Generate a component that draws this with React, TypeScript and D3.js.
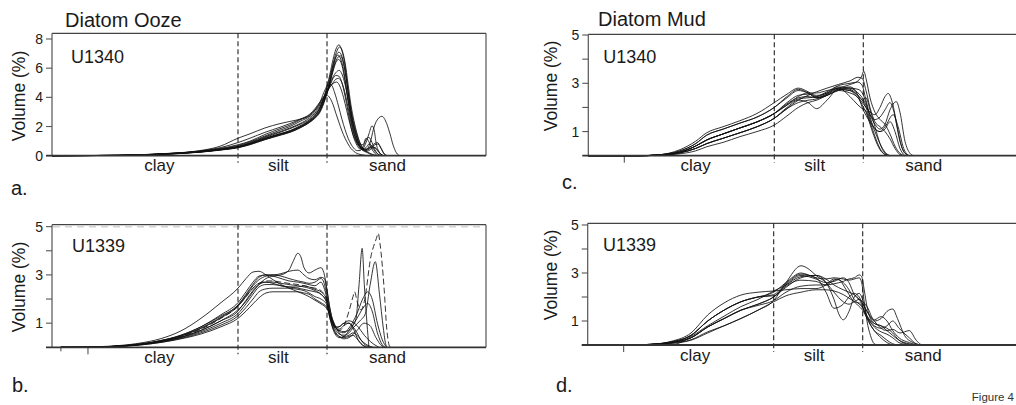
import React from "react";
import * as d3 from "d3";

// ---------- shared axis data ----------
const sizeDomain: [number, number] = [0.0126, 8665]; // grain size (µm), log scale
const classBoundaries = [4, 63]; // clay/silt, silt/sand (µm)
const classLabels = ["clay", "silt", "sand"];
const classLabelPos = [0.35, 14, 410]; // µm
const yTicksOoze1340 = [0, 2, 4, 6, 8];
const yLabelsOoze1340 = [0, 2, 4, 6, 8];
const yTicksFive = [1, 2, 3, 4, 5];
const yLabelsFive = [1, 3, 5];

// ---------- a. Diatom Ooze U1340 (µm, volume %) ----------
const oozeU1340: number[][][] = [
  [[0.0126,0],[0.1,0.02],[0.36,0.1],[1.23,0.27],[2.3,0.42],[4,0.62],[5.8,0.85],[9.2,1.2],[14.7,1.5],[20,1.7],[27.3,2.0],[37,2.4],[43,2.7],[51,3.3],[59,4.2],[69,5.6],[76,6.6],[83,7.3],[91,7.6],[100,7.2],[110,6.2],[121,4.5],[132,3.2],[145,2.2],[160,1.4],[175,0.85],[192,0.5],[211,0.3],[231,0.2],[254,0.1],[278,0.04],[306,0]],
  [[0.0126,0],[0.1,0.02],[0.36,0.09],[1.23,0.25],[2.3,0.4],[4,0.58],[5.8,0.8],[9.2,1.15],[14.7,1.45],[20,1.65],[27.3,1.95],[37,2.35],[43,2.6],[51,3.1],[59,3.9],[69,5.2],[76,6.3],[83,7.0],[93,7.45],[100,7.25],[110,6.4],[121,4.9],[132,3.5],[145,2.4],[160,1.5],[175,0.9],[192,0.5],[211,0.35],[231,0.45],[254,0.6],[278,0.75],[306,0.8],[335,0.5],[368,0.12],[404,0]],
  [[0.0126,0],[0.1,0.02],[0.36,0.09],[1.23,0.24],[2.3,0.38],[4,0.55],[5.8,0.75],[9.2,1.1],[14.7,1.4],[20,1.6],[27.3,1.9],[37,2.3],[43,2.55],[51,3.0],[59,3.8],[69,5.0],[76,6.0],[83,6.8],[91,7.1],[100,6.8],[110,5.9],[121,4.4],[132,3.0],[145,2.0],[160,1.2],[175,0.7],[192,0.45],[211,0.4],[231,0.5],[254,0.6],[278,0.55],[306,0.3],[335,0.1],[368,0]],
  [[0.0126,0],[0.1,0.02],[0.36,0.1],[1.23,0.27],[2.3,0.42],[4,0.6],[5.8,0.82],[9.2,1.18],[14.7,1.5],[20,1.72],[27.3,2.05],[37,2.45],[43,2.75],[51,3.3],[59,4.2],[69,5.4],[76,6.2],[83,6.75],[88,6.9],[95,6.7],[105,5.9],[116,4.5],[128,3.1],[140,2.0],[155,1.2],[170,0.7],[192,0.45],[211,0.55],[231,0.8],[254,0.65],[278,0.3],[306,0.1],[335,0]],
  [[0.0126,0],[0.1,0.02],[0.36,0.11],[1.23,0.29],[2.3,0.45],[4,0.65],[5.8,0.9],[9.2,1.3],[14.7,1.65],[20,1.9],[27.3,2.2],[37,2.6],[43,2.9],[51,3.4],[59,4.1],[69,4.9],[76,5.4],[83,5.7],[92,5.85],[100,5.6],[110,4.9],[121,3.9],[132,2.8],[145,1.9],[160,1.2],[175,0.8],[192,0.75],[211,1.2],[231,0.95],[254,0.45],[278,0.15],[306,0]],
  [[0.0126,0],[0.1,0.02],[0.36,0.11],[1.23,0.3],[2.3,0.47],[4,0.7],[5.8,0.95],[9.2,1.35],[14.7,1.75],[20,2.0],[27.3,2.35],[37,2.7],[43,3.0],[51,3.5],[59,4.1],[69,4.7],[76,5.0],[83,5.25],[90,5.3],[100,5.0],[110,4.3],[121,3.3],[132,2.3],[145,1.5],[160,0.95],[175,0.6],[192,0.4],[211,0.3],[231,0.35],[254,0.5],[278,0.55],[306,0.35],[335,0.1],[368,0]],
  [[0.0126,0],[0.1,0.02],[0.36,0.12],[1.23,0.31],[2.3,0.5],[4,0.75],[5.8,1.0],[9.2,1.45],[14.7,1.85],[20,2.1],[27.3,2.45],[37,2.8],[43,3.1],[51,3.6],[59,4.2],[69,4.75],[76,4.95],[85,5.05],[95,4.7],[105,4.0],[116,3.1],[128,2.2],[140,1.5],[155,0.95],[175,0.55],[192,0.35],[211,0.25],[231,0.15],[254,0.05],[278,0]],
  [[0.0126,0],[0.1,0.03],[0.36,0.13],[1.23,0.35],[2.3,0.65],[4,1.2],[5.8,1.5],[9.2,1.9],[14.7,2.2],[20,2.35],[27.3,2.5],[37,2.75],[43,3.1],[51,3.7],[59,4.5],[66,4.9],[72,4.85],[80,4.3],[90,3.4],[100,2.5],[110,1.8],[121,1.2],[132,0.8],[145,0.5],[160,0.35],[175,0.35],[192,0.6],[211,1.1],[231,1.25],[254,0.9],[278,0.4],[306,0.1],[335,0]],
  [[0.0126,0],[0.1,0.03],[0.36,0.12],[1.23,0.32],[2.3,0.55],[4,0.9],[5.8,1.2],[9.2,1.6],[14.7,1.95],[20,2.2],[27.3,2.5],[37,2.85],[43,3.2],[51,3.7],[59,4.1],[63,4.15],[69,3.95],[76,3.5],[83,2.9],[91,2.3],[100,1.7],[110,1.2],[121,0.8],[132,0.5],[145,0.3],[160,0.15],[192,0.05],[231,0]],
  [[0.0126,0],[0.1,0.02],[0.36,0.09],[1.23,0.25],[2.3,0.4],[4,0.55],[5.8,0.78],[9.2,1.1],[14.7,1.42],[20,1.62],[27.3,1.92],[37,2.3],[43,2.6],[51,3.1],[59,3.9],[69,5.0],[76,5.8],[83,6.4],[90,6.6],[100,6.2],[110,5.1],[121,3.7],[132,2.5],[145,1.5],[160,0.9],[175,0.55],[192,0.4],[211,0.4],[240,0.9],[265,1.8],[290,2.35],[345,2.7],[400,2.2],[443,1.5],[490,0.7],[540,0.2],[604,0]],
  [[0.0126,0],[0.1,0.02],[0.36,0.1],[1.23,0.28],[2.3,0.43],[4,0.6],[5.8,0.85],[9.2,1.25],[14.7,1.6],[20,1.85],[27.3,2.15],[37,2.5],[43,2.8],[51,3.3],[59,4.0],[69,4.8],[76,5.3],[83,5.5],[91,5.45],[100,5.0],[110,4.1],[121,3.0],[132,2.0],[145,1.2],[160,0.7],[175,0.45],[192,0.5],[211,0.9],[231,1.5],[254,2.05],[270,1.8],[290,0.8],[320,0.2],[350,0]],
  [[0.0126,0],[0.1,0.02],[0.36,0.1],[1.23,0.26],[2.3,0.41],[4,0.6],[5.8,0.83],[9.2,1.17],[14.7,1.48],[20,1.68],[27.3,1.98],[37,2.38],[43,2.65],[51,3.15],[59,3.95],[69,5.1],[76,5.9],[83,6.5],[95,6.85],[105,6.3],[116,5.0],[128,3.5],[140,2.3],[155,1.4],[170,0.8],[192,0.5],[211,0.45],[231,0.55],[254,0.7],[278,0.85],[300,0.9],[330,0.6],[370,0.15],[404,0]],
];

// ---------- b. Diatom Ooze U1339 ----------
const oozeU1339: number[][][] = [
  [[0.0166,0],[0.031,0.01],[0.0575,0.03],[0.107,0.08],[0.198,0.18],[0.368,0.36],[0.684,0.68],[1.27,1.2],[2.36,1.85],[4,2.45],[5.13,2.85],[6.36,3.12],[7.66,3.15],[9.52,3.0],[11.83,2.8],[15.15,2.6],[19.4,2.45],[25.6,2.3],[30.9,2.2],[36.1,2.1],[43.4,1.95],[52.2,1.8],[63,1.6],[75.8,1.1],[91.3,0.6],[106.6,0.45],[124.5,0.5],[140.9,0.6],[159.5,0.5],[180.5,0.3],[217,0.1],[262,0]],
  [[0.0166,0],[0.031,0],[0.0575,0.02],[0.107,0.05],[0.198,0.12],[0.368,0.24],[0.684,0.42],[1.27,0.7],[2.36,1.1],[4,1.55],[5.13,1.9],[6.36,2.3],[7.66,2.6],[9.52,2.85],[11.83,2.95],[15.15,3.0],[19.4,3.2],[22,3.55],[25.6,3.9],[28,3.75],[30.9,3.3],[36.1,3.08],[43.4,3.2],[52.2,3.3],[57,3.1],[63,2.4],[69,1.6],[75.8,1.05],[83,0.8],[91.3,0.75],[106.6,0.9],[124.5,1.0],[140.9,0.8],[159.5,0.4],[180.5,0.15],[217,0]],
  [[0.0166,0],[0.031,0],[0.0575,0.02],[0.107,0.06],[0.198,0.14],[0.368,0.28],[0.684,0.5],[1.27,0.85],[2.36,1.35],[4,1.85],[5.13,2.3],[6.36,2.7],[7.66,2.95],[9.52,3.0],[11.83,2.95],[15.15,2.85],[19.4,2.75],[25.6,2.7],[30.9,2.65],[36.1,2.6],[43.4,2.55],[52.2,2.7],[57,2.5],[63,2.0],[69,1.4],[75.8,1.0],[83,0.8],[91.3,0.7],[106.6,0.65],[124.5,0.7],[140.9,0.9],[155,1.2],[170,2.6],[187,4.1],[200,2.6],[217,1.0],[231,0]],
  [[0.0166,0],[0.031,0],[0.0575,0.02],[0.107,0.05],[0.198,0.12],[0.368,0.25],[0.684,0.45],[1.27,0.75],[2.36,1.2],[4,1.7],[5.13,2.1],[6.36,2.45],[7.66,2.65],[9.52,2.75],[11.83,2.75],[15.15,2.7],[19.4,2.65],[25.6,2.6],[30.9,2.55],[36.1,2.5],[43.4,2.45],[52.2,2.35],[63,1.9],[69,1.3],[75.8,0.95],[83,0.75],[91.3,0.7],[106.6,0.9],[124.5,1.5],[140.9,2.1],[148,2.3],[160,1.9],[180,1.55],[200,1.9],[245,3.75],[290,4.5],[308,4.72],[325,4.3],[370,2.4],[400,0.8],[430,0.1],[450,0]],
  [[0.0166,0],[0.031,0],[0.0575,0.02],[0.107,0.06],[0.198,0.14],[0.368,0.27],[0.684,0.48],[1.27,0.8],[2.36,1.25],[4,1.75],[5.13,2.15],[6.36,2.55],[7.66,2.8],[9.52,2.95],[11.83,3.0],[15.15,2.95],[19.4,2.85],[25.6,2.75],[30.9,2.7],[36.1,2.65],[43.4,2.7],[52.2,2.85],[57,2.7],[63,2.1],[69,1.4],[75.8,0.95],[83,0.7],[91.3,0.55],[106.6,0.5],[124.5,0.6],[140.9,0.8],[175,1.1],[207,1.4],[240,2.6],[281,3.55],[320,2.2],[360,0.8],[390,0.1],[410,0]],
  [[0.0166,0],[0.031,0],[0.0575,0.02],[0.107,0.05],[0.198,0.13],[0.368,0.26],[0.684,0.46],[1.27,0.78],[2.36,1.22],[4,1.7],[5.13,2.1],[6.36,2.45],[7.66,2.65],[9.52,2.7],[11.83,2.65],[15.15,2.55],[19.4,2.5],[25.6,2.5],[30.9,2.55],[36.1,2.5],[43.4,2.4],[52.2,2.3],[63,1.95],[69,1.4],[75.8,1.0],[83,0.8],[91.3,0.65],[106.6,0.6],[124.5,0.8],[159.5,1.4],[190,2.0],[222,2.3],[255,2.0],[300,1.0],[350,0.3],[400,0]],
  [[0.0166,0],[0.031,0],[0.0575,0.02],[0.107,0.05],[0.198,0.12],[0.368,0.23],[0.684,0.4],[1.27,0.65],[2.36,1.0],[4,1.4],[5.13,1.8],[6.36,2.2],[7.66,2.5],[9.52,2.6],[11.83,2.6],[15.15,2.55],[19.4,2.5],[25.6,2.45],[30.9,2.4],[36.1,2.35],[43.4,2.3],[52.2,2.2],[63,1.8],[69,1.2],[75.8,0.75],[83,0.5],[91.3,0.4],[106.6,0.45],[124.5,0.7],[159.5,1.2],[190,1.6],[222,1.82],[255,1.5],[300,0.6],[350,0.1],[380,0]],
  [[0.0166,0],[0.031,0],[0.0575,0.01],[0.107,0.04],[0.198,0.1],[0.368,0.2],[0.684,0.35],[1.27,0.55],[2.36,0.85],[4,1.2],[5.13,1.5],[6.36,1.8],[7.66,2.05],[9.52,2.25],[11.83,2.3],[15.15,2.3],[19.4,2.3],[25.6,2.3],[30.9,2.25],[36.1,2.2],[43.4,2.0],[52.2,1.85],[63,1.65],[69,1.2],[75.8,0.8],[83,0.55],[91.3,0.45],[106.6,0.4],[124.5,0.45],[140.9,0.5],[159.5,0.35],[180.5,0.15],[217,0]],
  [[0.0166,0],[0.031,0],[0.0575,0.01],[0.107,0.04],[0.198,0.1],[0.368,0.21],[0.684,0.37],[1.27,0.6],[2.36,0.92],[4,1.3],[5.13,1.65],[6.36,2.0],[7.66,2.3],[9.52,2.42],[11.83,2.45],[15.15,2.45],[19.4,2.45],[25.6,2.4],[30.9,2.35],[36.1,2.25],[43.4,2.1],[52.2,2.0],[63,1.75],[69,1.3],[75.8,0.95],[83,0.8],[91.3,0.85],[106.6,1.0],[124.5,1.0],[140.9,0.85],[159.5,0.6],[180.5,0.3],[217,0.05],[250,0]],
  [[0.0166,0],[0.031,0],[0.0575,0.02],[0.107,0.06],[0.198,0.14],[0.368,0.28],[0.684,0.5],[1.27,0.85],[2.36,1.3],[4,1.75],[5.13,2.2],[6.36,2.6],[7.66,2.9],[9.52,3.0],[11.83,3.0],[15.15,3.05],[19.4,3.15],[25.6,3.2],[30.9,3.0],[36.1,2.85],[43.4,2.8],[52.2,2.9],[58,2.85],[63,2.3],[69,1.6],[75.8,1.1],[83,0.85],[91.3,0.85],[106.6,1.0],[124.5,1.1],[159.5,0.9],[200,0.5],[262,0.15],[315,0]],
  [[0.0166,0],[0.031,0],[0.0575,0.02],[0.107,0.05],[0.198,0.12],[0.368,0.24],[0.684,0.42],[1.27,0.7],[2.36,1.1],[4,1.5],[5.13,1.95],[6.36,2.35],[7.66,2.6],[9.52,2.7],[11.83,2.7],[15.15,2.65],[19.4,2.6],[25.6,2.55],[30.9,2.5],[36.1,2.45],[43.4,2.35],[52.2,2.2],[63,1.85],[69,1.3],[75.8,0.85],[83,0.6],[91.3,0.45],[106.6,0.35],[124.5,0.4],[159.5,0.7],[198,1.0],[238,0.9],[287,0.4],[346,0.05],[380,0]],
];
const oozeU1339Dashed = [3];

// ---------- c. Diatom Mud U1340 ----------
const mudU1340: number[][][] = [
  [[0.0126,0],[0.06,0],[0.105,0.03],[0.216,0.25],[0.35,0.6],[0.493,0.95],[0.817,1.2],[1.38,1.45],[2.34,1.75],[4,2.2],[5.93,2.55],[8.41,2.8],[11.36,2.65],[14.87,2.45],[20.45,2.6],[29,2.8],[41.7,2.45],[53.4,2.1],[61,1.95],[68.5,1.85],[77.5,1.4],[90.4,0.8],[105.6,0.3],[123.3,0.05],[143.9,0]],
  [[0.0126,0],[0.06,0],[0.105,0.02],[0.216,0.12],[0.35,0.3],[0.493,0.5],[0.817,0.72],[1.38,0.95],[2.34,1.2],[4,1.55],[5.93,1.95],[8.41,2.3],[11.36,2.5],[14.87,2.65],[20.45,2.8],[29,2.95],[41.7,3.1],[53.4,3.25],[61,3.2],[68.5,2.7],[77.5,2.0],[90.4,1.4],[105.6,1.2],[123.3,1.0],[143.9,0.7],[168,0.3],[196,0.05],[229,0]],
  [[0.0126,0],[0.06,0],[0.105,0.02],[0.216,0.15],[0.35,0.4],[0.493,0.65],[0.817,0.9],[1.38,1.15],[2.34,1.4],[4,1.75],[5.93,2.1],[8.41,2.45],[11.36,2.6],[14.87,2.6],[20.45,2.7],[29,2.8],[41.7,2.95],[53.4,3.1],[60,3.3],[64,3.5],[68.5,3.2],[77.5,2.4],[90.4,1.8],[105.6,1.5],[123.3,1.3],[143.9,0.9],[168,0.4],[196,0.1],[229,0]],
  [[0.0126,0],[0.06,0],[0.105,0.02],[0.216,0.12],[0.35,0.3],[0.493,0.5],[0.817,0.72],[1.38,0.95],[2.34,1.2],[4,1.55],[5.93,2.0],[8.41,2.3],[11.36,2.2],[14.87,1.95],[20.45,2.3],[29,2.75],[41.7,2.7],[53.4,2.5],[61,2.3],[68.5,2.0],[77.5,1.5],[90.4,1.0],[105.6,0.5],[123.3,0.15],[143.9,0]],
  [[0.0126,0],[0.06,0],[0.105,0.02],[0.216,0.15],[0.35,0.4],[0.493,0.65],[0.817,0.9],[1.38,1.15],[2.34,1.4],[4,1.75],[5.93,2.15],[8.41,2.4],[11.36,2.45],[14.87,2.4],[20.45,2.55],[29,2.75],[41.7,2.7],[53.4,2.4],[61,2.2],[68.5,2.0],[77.5,1.8],[90.4,1.7],[105.6,2.0],[123.3,2.45],[136,2.58],[155,2.2],[180,1.2],[210,0.3],[240,0.05],[260,0]],
  [[0.0126,0],[0.06,0],[0.105,0.02],[0.216,0.15],[0.35,0.4],[0.493,0.65],[0.817,0.9],[1.38,1.15],[2.34,1.4],[4,1.75],[5.93,2.2],[8.41,2.5],[11.36,2.55],[14.87,2.5],[20.45,2.6],[29,2.85],[41.7,2.8],[53.4,2.6],[61,2.4],[68.5,2.1],[77.5,1.7],[90.4,1.3],[105.6,1.1],[123.3,1.3],[143.9,1.9],[175,2.24],[196,1.8],[229,0.6],[267,0.1],[300,0]],
  [[0.0126,0],[0.06,0],[0.105,0.02],[0.216,0.12],[0.35,0.3],[0.493,0.5],[0.817,0.72],[1.38,0.95],[2.34,1.2],[4,1.55],[5.93,1.95],[8.41,2.2],[11.36,2.3],[14.87,2.35],[20.45,2.5],[29,2.7],[41.7,2.8],[53.4,2.75],[61,2.6],[68.5,2.2],[77.5,1.6],[90.4,1.1],[105.6,1.0],[123.3,1.2],[159,1.7],[185,1.2],[220,0.3],[260,0]],
  [[0.0126,0],[0.06,0],[0.105,0.03],[0.216,0.2],[0.35,0.5],[0.493,0.85],[0.817,1.1],[1.38,1.35],[2.34,1.6],[4,2.0],[5.93,2.4],[8.41,2.7],[11.36,2.6],[14.87,2.4],[20.45,2.5],[29,2.75],[41.7,2.85],[53.4,2.5],[61,2.0],[77.5,1.4],[105.6,1.0],[123.3,1.1],[144,1.41],[168,1.0],[196,0.3],[229,0]],
  [[0.0126,0],[0.06,0],[0.105,0.01],[0.216,0.08],[0.35,0.2],[0.493,0.37],[0.817,0.55],[1.38,0.79],[2.34,1.0],[4,1.27],[5.93,1.65],[8.41,2.0],[11.36,2.2],[14.87,2.3],[20.45,2.5],[29,2.7],[41.7,2.6],[53.4,2.4],[61,2.1],[68.5,1.8],[77.5,1.3],[90.4,0.7],[105.6,0.25],[123.3,0.05],[143.9,0]],
  [[0.0126,0],[0.06,0],[0.105,0.03],[0.216,0.2],[0.35,0.5],[0.493,0.85],[0.817,1.1],[1.38,1.35],[2.34,1.6],[4,2.0],[5.93,2.45],[8.41,2.75],[11.36,2.6],[14.87,2.4],[20.45,2.55],[29,2.8],[41.7,2.75],[53.4,2.5],[61,2.3],[68.5,2.4],[77.5,1.9],[90.4,1.2],[105.6,0.5],[123.3,0.1],[143.9,0]],
  [[0.0126,0],[0.06,0],[0.105,0.02],[0.216,0.15],[0.35,0.4],[0.493,0.65],[0.817,0.9],[1.38,1.15],[2.34,1.4],[4,1.75],[5.93,2.1],[8.41,2.35],[11.36,2.4],[14.87,2.45],[20.45,2.65],[29,2.9],[41.7,3.0],[53.4,3.05],[61,2.9],[68.5,2.3],[77.5,1.7],[90.4,1.5],[105.6,1.6],[123.3,1.9],[143.9,2.2],[160,1.9],[196,0.6],[229,0.1],[260,0]],
];

// ---------- d. Diatom Mud U1339 ----------
const mudU1339: number[][][] = [
  [[0.0126,0],[0.05,0],[0.0896,0.03],[0.166,0.15],[0.309,0.5],[0.518,1.25],[0.859,1.75],[1.45,2.08],[2.46,2.2],[4,2.25],[5.85,2.3],[9.31,2.35],[14.8,2.35],[20.2,2.5],[25.9,2.75],[34.5,2.6],[41.2,2.3],[48.5,1.9],[56.6,1.7],[61,1.6],[71.9,1.2],[90.2,0.9],[110.9,0.8],[133.6,0.7],[159.5,0.5],[193.7,0.2],[266.6,0.02],[300,0]],
  [[0.0126,0],[0.166,0],[0.309,0.35],[0.518,0.8],[0.859,1.2],[1.45,1.6],[2.46,1.9],[4,2.25],[5.85,2.5],[9.31,2.85],[14.8,2.9],[20.2,2.75],[25.9,2.5],[34.5,2.3],[41.2,2.2],[48.5,2.1],[56.6,1.9],[61,1.7],[71.9,1.1],[90.2,0.6],[110.9,0.3],[133.6,0.1],[159.5,0]],
  [[0.0126,0],[0.05,0],[0.0896,0.02],[0.166,0.08],[0.309,0.22],[0.518,0.55],[0.859,0.8],[1.45,1.11],[2.46,1.45],[4,1.85],[5.85,2.6],[9.31,3.3],[12,3.15],[14.8,2.9],[20.2,2.6],[25.9,2.2],[34.5,1.8],[41.2,1.7],[48.5,1.8],[56.6,1.9],[61,1.8],[71.9,1.4],[90.2,1.0],[110.9,1.1],[133.6,1.4],[159.5,1.5],[185,1.1],[230,0.4],[300,0.1],[383,0]],
  [[0.0126,0],[0.05,0],[0.0896,0.02],[0.166,0.1],[0.309,0.3],[0.518,0.75],[0.859,1.1],[1.45,1.45],[2.46,1.7],[4,2.0],[5.85,2.4],[9.31,2.8],[14.8,2.9],[20.2,2.6],[25.9,1.9],[30,1.3],[34.5,1.05],[41.2,1.4],[48.5,2.0],[56.6,2.15],[61,2.0],[71.9,1.2],[90.2,0.6],[110.9,0.4],[133.6,0.2],[159.5,0.05],[193.7,0]],
  [[0.0126,0],[0.05,0],[0.0896,0.02],[0.166,0.1],[0.309,0.3],[0.518,0.75],[0.859,1.1],[1.45,1.45],[2.46,1.65],[4,1.85],[5.85,2.2],[9.31,2.45],[14.8,2.5],[20.2,2.5],[25.9,2.55],[34.5,2.65],[41.2,2.75],[48.5,2.8],[56.6,2.92],[61,2.85],[66,2.3],[71.9,1.6],[80,1.1],[90.2,0.9],[110.9,0.8],[133.6,0.6],[159.5,0.4],[193.7,0.2],[266.6,0.05],[330,0]],
  [[0.0126,0],[0.05,0],[0.0896,0.03],[0.166,0.12],[0.309,0.4],[0.518,1.0],[0.859,1.45],[1.45,1.8],[2.46,2.0],[4,2.05],[5.85,2.5],[9.31,2.9],[14.8,2.75],[20.2,2.6],[25.9,2.65],[34.5,2.8],[41.2,2.6],[48.5,2.1],[56.6,1.9],[61,1.85],[71.9,1.6],[90.2,1.05],[110.9,1.18],[133.6,1.0],[159.5,0.6],[193.7,0.3],[266.6,0.1],[330,0]],
  [[0.0126,0],[0.05,0],[0.0896,0.03],[0.166,0.12],[0.309,0.4],[0.518,1.0],[0.859,1.45],[1.45,1.8],[2.46,2.0],[4,2.1],[5.85,2.55],[9.31,2.95],[14.8,2.8],[20.2,2.2],[25.9,1.53],[34.5,1.7],[41.2,2.0],[48.5,2.15],[56.6,2.0],[61,1.8],[71.9,1.4],[90.2,1.0],[110.9,0.7],[133.6,0.6],[159.5,0.65],[200,0.5],[266.6,0.6],[330,0.2],[383,0.02],[420,0]],
  [[0.0126,0],[0.05,0],[0.0896,0.02],[0.166,0.06],[0.309,0.2],[0.518,0.5],[0.859,0.8],[1.45,1.1],[2.46,1.45],[4,1.8],[5.85,2.05],[9.31,2.2],[14.8,2.3],[20.2,2.3],[25.9,2.25],[34.5,2.1],[41.2,1.95],[48.5,1.8],[56.6,1.6],[61,1.5],[71.9,1.15],[90.2,0.75],[110.9,0.55],[133.6,0.45],[159.5,0.3],[193.7,0.1],[266.6,0]],
  [[0.0126,0],[0.05,0],[0.0896,0.03],[0.166,0.12],[0.309,0.4],[0.518,1.0],[0.859,1.45],[1.45,1.8],[2.46,2.0],[4,2.2],[5.85,2.6],[9.31,3.0],[14.8,2.8],[20.2,2.75],[25.9,2.8],[34.5,2.75],[41.2,2.7],[48.5,2.75],[56.6,2.8],[61,2.6],[66,1.8],[71.9,1.0],[80,0.4],[90.2,0.05],[100,0]],
  [[0.0126,0],[0.05,0],[0.0896,0.02],[0.166,0.1],[0.309,0.3],[0.518,0.75],[0.859,1.1],[1.45,1.45],[2.46,1.7],[4,2.0],[5.85,2.45],[9.31,2.7],[14.8,2.65],[20.2,2.5],[25.9,2.7],[30,2.75],[34.5,2.5],[41.2,2.1],[48.5,1.8],[56.6,1.75],[61,1.65],[71.9,1.2],[90.2,0.8],[110.9,0.7],[133.6,0.8],[159.5,1.0],[193.7,0.7],[266.6,0.3],[330,0.05],[383,0]],
];

// ---------- layout ----------
const PLOT_W = 434;
const FONT = "'Liberation Sans', Arial, Helvetica, sans-serif";
const INK = "#1a1a1a";

type Panel = {
  series: number[][][];
  dashed: number[];
  left: number; top: number; bottom: number; yMax: number;
  ticks: number[]; tickLabels: number[];
  site: string; siteDx: number; siteDy: number;
  letter: string; letterX: number; letterY: number;
  title?: string; titleX?: number; titleY?: number;
  volY: number; volX: number;
  extraTicks: number[]; minorTicks: number[];
  grayTop: boolean;
};

const panels: Panel[] = [
  { series: oozeU1340, dashed: [], left: 52, top: 33.3, bottom: 155.7, yMax: 8.39,
    ticks: yTicksOoze1340, tickLabels: yLabelsOoze1340, site: "U1340", siteDx: 19, siteDy: 29.4,
    letter: "a.", letterX: 11, letterY: 195, title: "Diatom Ooze", titleX: 65, titleY: 27,
    volY: 96, volX: 25, extraTicks: [], minorTicks: [], grayTop: false },
  { series: oozeU1339, dashed: oozeU1339Dashed, left: 52, top: 224.7, bottom: 347.3, yMax: 5.08,
    ticks: yTicksFive, tickLabels: yLabelsFive, site: "U1339", siteDx: 20, siteDy: 27,
    letter: "b.", letterX: 12, letterY: 392,
    volY: 287, volX: 25, extraTicks: [0.0384], minorTicks: [0.0166], grayTop: true },
  { series: mudU1340, dashed: [], left: 588.3, top: 34.3, bottom: 155.7, yMax: 5.03,
    ticks: yTicksFive, tickLabels: yLabelsFive, site: "U1340", siteDx: 15, siteDy: 28.4,
    letter: "c.", letterX: 562, letterY: 189, title: "Diatom Mud", titleX: 598, titleY: 26,
    volY: 86, volX: 556.5, extraTicks: [0.0384], minorTicks: [], grayTop: false },
  { series: mudU1339, dashed: [], left: 587.7, top: 223.3, bottom: 345, yMax: 5.07,
    ticks: yTicksFive, tickLabels: yLabelsFive, site: "U1339", siteDx: 15.3, siteDy: 27.4,
    letter: "d.", letterX: 556, letterY: 392,
    volY: 275, volX: 556.5, extraTicks: [0.0384], minorTicks: [], grayTop: false },
];

function PanelView({ p }: { p: Panel }) {
  const x = d3.scaleLog().domain(sizeDomain).range([p.left, p.left + PLOT_W]);
  const y = d3.scaleLinear().domain([0, p.yMax]).range([p.bottom, p.top]);
  const line = d3
    .line<number[]>()
    .x((d) => x(d[0]))
    .y((d) => y(d[1]))
    .curve(d3.curveMonotoneX);
  const right = p.left + PLOT_W;
  return (
    <g>
      {p.title && (
        <text x={p.titleX} y={p.titleY} fontSize={20} fill={INK}>{p.title}</text>
      )}
      {/* frame */}
      <line x1={p.left} x2={right} y1={p.top} y2={p.top} stroke="#444" strokeWidth={1.2} />
      <line x1={right} x2={right} y1={p.top} y2={p.bottom} stroke="#555" strokeWidth={1.2} />
      <line x1={p.left} x2={p.left} y1={p.top} y2={p.bottom} stroke="#555" strokeWidth={1.2} />
      {p.grayTop && (
        <line x1={p.left + 1} x2={right - 1} y1={y(5)} y2={y(5)} stroke="#d4d4d4" strokeWidth={1.8} strokeDasharray="7,5" />
      )}
      {/* y ticks */}
      {p.ticks.map((t) => (
        <line key={"t" + t} x1={p.left - 6} x2={p.left} y1={y(t)} y2={y(t)} stroke="#555" strokeWidth={1.1} />
      ))}
      {p.tickLabels.map((t) => (
        <text key={"l" + t} x={p.left - 9} y={y(t)} dy="0.36em" textAnchor="end" fontSize={14} fill={INK}>{t}</text>
      ))}
      <text
        transform={`translate(${p.volX},${p.volY}) rotate(-90)`}
        textAnchor="middle" fontSize={17.5} fill={INK}
      >Volume (%)</text>
      {/* boundaries */}
      {classBoundaries.map((b) => (
        <line key={"b" + b} x1={x(b)} x2={x(b)} y1={p.top} y2={p.bottom + 7} stroke="#222" strokeWidth={1.1} strokeDasharray="5,3" />
      ))}
      {p.extraTicks.map((t) => (
        <line key={"e" + t} x1={x(t)} x2={x(t)} y1={p.bottom} y2={p.bottom + 7} stroke="#444" strokeWidth={1} />
      ))}
      {p.minorTicks.map((t) => (
        <line key={"m" + t} x1={x(t)} x2={x(t)} y1={p.bottom} y2={p.bottom + 4} stroke="#444" strokeWidth={1} />
      ))}
      {/* curves */}
      <g fill="none" stroke="#111" strokeWidth={0.85} strokeLinejoin="round">
        {p.series.map((s, i) => (
          <path key={i} d={line(s) || ""} strokeDasharray={p.dashed.includes(i) ? "6,3" : undefined} />
        ))}
      </g>
      {/* bottom axis */}
      <line x1={p.left - 6} x2={right} y1={p.bottom} y2={p.bottom} stroke="#333" strokeWidth={1.8} />
      {classLabels.map((c, i) => (
        <text key={c} x={x(classLabelPos[i])} y={p.bottom + 15.5} textAnchor="middle" fontSize={17} fill={INK}>{c}</text>
      ))}
      <text x={p.left + p.siteDx} y={p.top + p.siteDy} fontSize={18} fill={INK}>{p.site}</text>
      <text x={p.letterX} y={p.letterY} fontSize={20} fill={INK}>{p.letter}</text>
    </g>
  );
}

export default function App() {
  return (
    <svg
      width={1016}
      height={405}
      style={{ position: "absolute", left: 0, top: 0, display: "block", background: "#fff" }}
      fontFamily={FONT}
    >
      <rect x={0} y={0} width={1016} height={405} fill="#fff" />
      {panels.map((p, i) => (
        <PanelView key={i} p={p} />
      ))}
      <text x={1014} y={401} textAnchor="end" fontSize={11.5} fill="#333">Figure 4</text>
    </svg>
  );
}
